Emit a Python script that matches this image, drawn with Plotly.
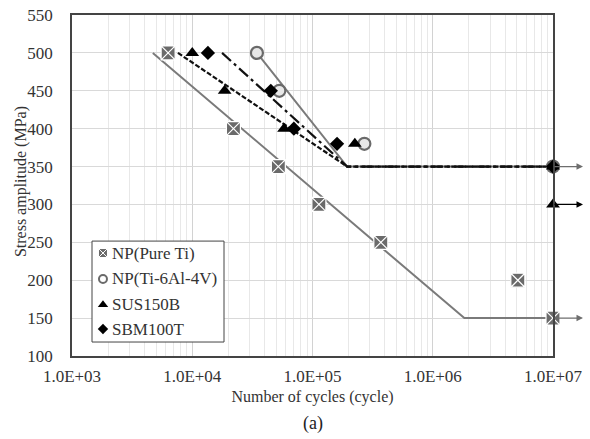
import math
import plotly.graph_objects as go

# ---- data ----
pure_ti_n = [6.3e3, 2.2e4, 5.2e4, 1.13e5, 3.7e5, 5.1e6, 1.0e7]
pure_ti_s = [500, 400, 350, 300, 250, 200, 150]
ti64_n = [3.45e4, 5.3e4, 2.7e5, 1.0e7]
ti64_s = [500, 450, 380, 350]
sus_n = [1.0e4, 1.86e4, 5.8e4, 2.25e5, 1.0e7, 1.0e7]
sus_s = [500, 450, 400, 380, 350, 300]
sbm_n = [1.35e4, 4.5e4, 7.0e4, 1.6e5, 1.0e7]
sbm_s = [500, 450, 400, 380, 350]

# S-N fit lines
pure_ti_line_n = [4.7e3, 1.83e6, 1.0e7]
pure_ti_line_s = [500, 150, 150]
ti64_line_n = [3.45e4, 1.94e5, 1.0e7]
ti64_line_s = [500, 350, 350]
sus_line_n = [7.6e3, 1.94e5, 1.0e7]
sus_line_s = [500, 350, 350]
sbm_line_n = [1.77e4, 1.94e5, 1.0e7]
sbm_line_s = [500, 350, 350]

# run-outs (arrows)
runout_n = [1.0e7, 1.0e7, 1.0e7]
runout_s = [350, 300, 150]
runout_color = ["#6e6e6e", "#000000", "#6e6e6e"]

series_names = ["NP(Pure Ti)", "NP(Ti-6Al-4V)", "SUS150B", "SBM100T"]

x_tickvals = [1e3, 1e4, 1e5, 1e6, 1e7]
x_ticktext = ["1.0E+03", "1.0E+04", "1.0E+05", "1.0E+06", "1.0E+07"]
y_tickvals = list(range(100, 551, 50))

FONT = "Liberation Serif"
GRAY = "#7a7a7a"

sym = [
    dict(symbol="square-x", color="#6a6a6a", line=dict(color="#ffffff", width=1.2)),
    dict(symbol="circle", color="#e8e8e8", line=dict(color="#6a6a6a", width=2.2)),
    dict(symbol="triangle-up", color="#000000", line=dict(width=0)),
    dict(symbol="diamond", color="#000000", line=dict(width=0)),
]
sizes = [14, 12, 12, 11]
legend_sym = [
    dict(symbol="square-x", color="#6a6a6a", line=dict(color="#ffffff", width=1)),
    dict(symbol="circle", color="#ffffff", line=dict(color="#6a6a6a", width=2)),
    dict(symbol="triangle-up", color="#000000", line=dict(width=0)),
    dict(symbol="diamond", color="#000000", line=dict(width=0)),
]
legend_sizes = [9, 8, 9, 8]
data_n = [pure_ti_n, ti64_n, sus_n, sbm_n]
data_s = [pure_ti_s, ti64_s, sus_s, sbm_s]

# legend layout (fractions of the plot area)
LEG_X0, LEG_X1, LEG_Y0, LEG_Y1 = 0.0416, 0.316, 0.041, 0.337
LEG_MARK_X = 0.0644
LEG_TEXT_X = 0.080
LEG_ROWS = [0.302, 0.226, 0.150, 0.079]

fig = go.Figure()

# lines
fig.add_trace(go.Scatter(x=pure_ti_line_n, y=pure_ti_line_s, mode="lines",
                         line=dict(color=GRAY, width=2), showlegend=False, hoverinfo="skip"))
fig.add_trace(go.Scatter(x=ti64_line_n, y=ti64_line_s, mode="lines",
                         line=dict(color=GRAY, width=2), showlegend=False, hoverinfo="skip"))
fig.add_trace(go.Scatter(x=sus_line_n, y=sus_line_s, mode="lines",
                         line=dict(color="#111111", width=2.2, dash="5px,2px"), showlegend=False, hoverinfo="skip"))
fig.add_trace(go.Scatter(x=sbm_line_n, y=sbm_line_s, mode="lines",
                         line=dict(color="#111111", width=2.2, dash="12px,4px,3px,4px"), showlegend=False, hoverinfo="skip"))

# markers
for i in range(4):
    fig.add_trace(go.Scatter(x=data_n[i], y=data_s[i], mode="markers", name=series_names[i],
                             marker=dict(size=sizes[i], **sym[i]), showlegend=False,
                             cliponaxis=False))

# legend box (overlay axis spanning the plot area)
fig.add_trace(go.Scatter(x=[LEG_X0, LEG_X1, LEG_X1, LEG_X0, LEG_X0],
                         y=[LEG_Y0, LEG_Y0, LEG_Y1, LEG_Y1, LEG_Y0],
                         xaxis="x2", yaxis="y2", mode="lines", fill="toself",
                         fillcolor="white", line=dict(color="#444444", width=1),
                         showlegend=False, hoverinfo="skip"))
for i in range(4):
    fig.add_trace(go.Scatter(x=[LEG_MARK_X], y=[LEG_ROWS[i]], mode="markers", xaxis="x2", yaxis="y2",
                             marker=dict(size=legend_sizes[i], **legend_sym[i]),
                             showlegend=False, hoverinfo="skip"))
    fig.add_annotation(x=LEG_TEXT_X, y=LEG_ROWS[i], xref="paper", yref="paper",
                       text=series_names[i], showarrow=False, xanchor="left", yanchor="middle",
                       font=dict(family=FONT, size=17, color="#333333"))

for n, s, c in zip(runout_n, runout_s, runout_color):
    fig.add_annotation(x=math.log10(n), y=s, xref="x", yref="y", text="",
                       showarrow=True, arrowhead=2, arrowsize=1, arrowwidth=1.3,
                       arrowcolor=c, ax=-30, ay=0, xshift=30)

fig.add_annotation(x=0.5, y=-0.16, xref="paper", yref="paper", text="(a)",
                   showarrow=False, font=dict(family=FONT, size=18, color="#222222"),
                   yanchor="top")
# y-axis title
fig.add_annotation(x=-0.106, y=0.51, xref="paper", yref="paper", text="Stress amplitude (MPa)",
                   textangle=-90, showarrow=False, xanchor="center", yanchor="middle",
                   font=dict(family=FONT, size=16, color="#333333"))

fig.update_xaxes(type="log", range=[3, 7], tickvals=x_tickvals, ticktext=x_ticktext,
                 showgrid=True, gridcolor="#d2d2d2", gridwidth=1,
                 minor=dict(showgrid=True, gridcolor="#e8e8e8", gridwidth=1,
                            tickvals=[m * 10 ** e for e in range(3, 7) for m in range(2, 10)]),
                 showline=True, linecolor="#444444", linewidth=1.5, mirror=True,
                 ticks="", zeroline=False, ticklabelstandoff=4, automargin=False,
                 tickfont=dict(family=FONT, size=17, color="#333333"),
                 title=dict(text="Number of cycles (cycle)", standoff=6,
                            font=dict(family=FONT, size=16, color="#333333")))
fig.update_yaxes(range=[100, 550], tickvals=y_tickvals,
                 showgrid=True, gridcolor="#d9d9d9", gridwidth=1,
                 showline=True, linecolor="#444444", linewidth=1.5, mirror=True,
                 ticks="", zeroline=False, ticklabelstandoff=14, automargin=False,
                 tickfont=dict(family=FONT, size=17, color="#333333"))

fig.update_layout(
    width=590, height=439,
    margin=dict(l=72, r=37, t=15, b=83),
    plot_bgcolor="white", paper_bgcolor="white",
    font=dict(family=FONT, size=16, color="#222222"),
    xaxis2=dict(overlaying="x", range=[0, 1], visible=False, fixedrange=True),
    yaxis2=dict(overlaying="y", range=[0, 1], visible=False, fixedrange=True),
    showlegend=False,
)

fig.write_html("out.html")
